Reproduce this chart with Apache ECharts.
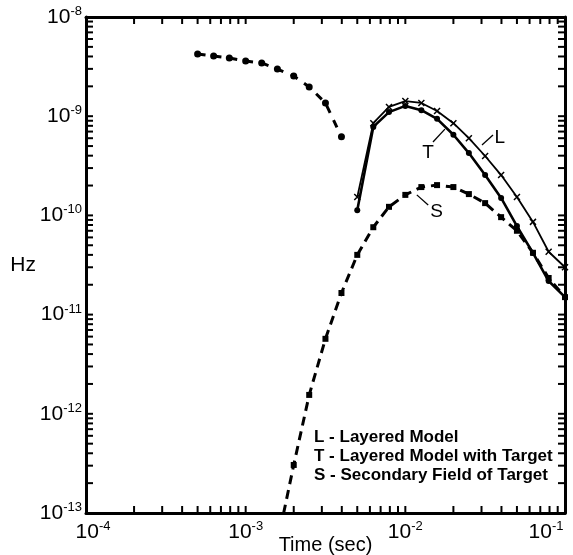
<!DOCTYPE html>
<html lang="en">
  <head>
    <meta charset="UTF-8" />
    <title>Hz vs Time</title>
    <style>
      html, body { margin: 0; padding: 0; background: #fff; }
      .box { width: 573px; height: 555px; }
    </style>
  </head>
  <body>
    <div class="box"></div>
    <script src="https://cdn.jsdelivr.net/npm/echarts@6/dist/echarts.min.js"></script>
    <script>
      var myChart = echarts.init(document.querySelector(".box"));

      // early-time dashed branch (before the sign change)
      var earlyTime = [5.0e-4, 6.3e-4, 7.9e-4, 1.0e-3, 1.26e-3, 1.58e-3, 2.0e-3, 2.5e-3, 3.16e-3, 3.98e-3];
      var earlyHz = [4.24e-9, 4.04e-9, 3.86e-9, 3.6e-9, 3.44e-9, 2.99e-9, 2.54e-9, 1.97e-9, 1.36e-9, 6.2e-10];

      // L - Layered Model
      var lTime = [5.0e-3, 6.3e-3, 7.9e-3, 1.0e-2, 1.26e-2, 1.58e-2, 2.0e-2, 2.5e-2, 3.16e-2, 3.98e-2, 5.0e-2, 6.3e-2, 7.9e-2, 1.0e-1];
      var lHz = [1.53e-10, 8.5e-10, 1.24e-9, 1.42e-9, 1.36e-9, 1.13e-9, 8.5e-10, 6.0e-10, 3.97e-10, 2.55e-10, 1.53e-10, 8.6e-11, 4.3e-11, 3.0e-11];

      // T - Layered Model with Target
      var tTime = [5.0e-3, 6.3e-3, 7.9e-3, 1.0e-2, 1.26e-2, 1.58e-2, 2.0e-2, 2.5e-2, 3.16e-2, 3.98e-2, 5.0e-2, 6.3e-2, 7.9e-2, 1.0e-1];
      var tHz = [1.13e-10, 7.8e-10, 1.10e-9, 1.27e-9, 1.15e-9, 9.4e-10, 6.5e-10, 4.25e-10, 2.55e-10, 1.50e-10, 7.8e-11, 4.18e-11, 2.18e-11, 1.5e-11];

      // S - Secondary Field of Target
      var sTime = [1.58e-3, 2.0e-3, 2.5e-3, 3.16e-3, 3.98e-3, 5.0e-3, 6.3e-3, 7.9e-3, 1.0e-2, 1.26e-2, 1.58e-2, 2.0e-2, 2.5e-2, 3.16e-2, 3.98e-2, 5.0e-2, 6.3e-2, 7.9e-2, 1.0e-1];
      var sHz = [5e-14, 3.05e-13, 1.55e-12, 5.7e-12, 1.65e-11, 4.0e-11, 7.6e-11, 1.22e-10, 1.61e-10, 1.93e-10, 2.02e-10, 1.93e-10, 1.64e-10, 1.33e-10, 9.6e-11, 7.0e-11, 4.2e-11, 2.34e-11, 1.5e-11];

      var legendLines = [
        "L - Layered Model",
        "T - Layered Model with Target",
        "S - Secondary Field of Target"
      ];

      var X_MIN = 1e-4, X_MAX = 1e-1, Y_MIN = 1e-13, Y_MAX = 1e-8;

      function pairs(xs, ys) {
        return xs.map(function (x, i) { return [x, ys[i]]; });
      }

      // 1..9 x 10^e tick values inside [lo, hi]
      function logTicks(lo, hi) {
        var out = [];
        for (var e = Math.round(Math.log10(lo)); e < Math.round(Math.log10(hi)); e++) {
          for (var m = 1; m <= 9; m++) out.push(m * Math.pow(10, e));
        }
        return out;
      }

      var FONT = "Liberation Sans, Arial, Helvetica, sans-serif";
      var crossPath = "path://M0,0L10,10M10,0L0,10";

      function powLabel(v) {
        var e = Math.round(Math.log10(v));
        return "{b|10}{s|" + e + "}";
      }
      // first x label nudged right, last one kept inside the frame
      function xPowLabel(v) {
        var e = Math.round(Math.log10(v));
        if (v >= X_MAX * 0.999) return "{b|10}{sr|" + e + "}";
        if (v <= X_MIN * 1.001) return "{bl|10}{s|" + e + "}";
        return "{b|10}{s|" + e + "}";
      }
      var richPow = {
        b: { fontSize: 21, fontFamily: FONT, color: "#000", lineHeight: 24 },
        bl: { fontSize: 21, fontFamily: FONT, color: "#000", lineHeight: 24, padding: [0, 0, 0, 14] },
        s: { fontSize: 13, fontFamily: FONT, color: "#000", verticalAlign: "top", lineHeight: 24, padding: [0, 0, 10, 0] },
        sr: { fontSize: 13, fontFamily: FONT, color: "#000", verticalAlign: "top", lineHeight: 24, padding: [0, 38, 10, 0] }
      };

      var axisLine = { show: true, onZero: false, lineStyle: { color: "#000", width: 3 } };
      var tickStyle = { stroke: "#000", lineWidth: 2 };
      var TICK = 7;

      function annot(letter, from, to, textAt) {
        return {
          markLine: {
            silent: true,
            symbol: "none",
            label: { show: false },
            lineStyle: { color: "#000", width: 1.3, type: "solid" },
            data: [[{ coord: from }, { coord: to }]]
          },
          markPoint: {
            silent: true,
            symbol: "circle",
            symbolSize: 1,
            itemStyle: { color: "rgba(0,0,0,0)" },
            label: {
              show: true, position: "inside", formatter: letter,
              fontSize: 19, fontFamily: FONT, color: "#000"
            },
            data: [{ coord: textAt }]
          }
        };
      }

      var lAnn = annot("L", [3.02e-2, 5.13e-10], [3.54e-2, 6.46e-10], [3.9e-2, 6.0e-10]);
      var tAnn = annot("T", [1.49e-2, 5.5e-10], [1.77e-2, 7.4e-10], [1.39e-2, 4.3e-10]);
      var sAnn = annot("S", [1.18e-2, 1.61e-10], [1.39e-2, 1.27e-10], [1.57e-2, 1.08e-10]);

      var xTickData = logTicks(X_MIN, X_MAX).map(function (v) { return [v, Y_MIN]; });
      var yTickData = logTicks(Y_MIN, Y_MAX).map(function (v) { return [X_MIN, v]; });

      function xTickItem(params, api) {
        var cs = params.coordSys;
        var p = api.coord([api.value(0), Y_MIN]);
        var top = cs.y, bot = cs.y + cs.height;
        return {
          type: "group",
          children: [
            { type: "line", shape: { x1: p[0], y1: bot, x2: p[0], y2: bot - TICK }, style: tickStyle },
            { type: "line", shape: { x1: p[0], y1: top, x2: p[0], y2: top + TICK }, style: tickStyle }
          ]
        };
      }
      function yTickItem(params, api) {
        var cs = params.coordSys;
        var p = api.coord([X_MIN, api.value(1)]);
        var left = cs.x, right = cs.x + cs.width;
        return {
          type: "group",
          children: [
            { type: "line", shape: { x1: left, y1: p[1], x2: left + TICK, y2: p[1] }, style: tickStyle },
            { type: "line", shape: { x1: right, y1: p[1], x2: right - TICK, y2: p[1] }, style: tickStyle }
          ]
        };
      }

      var option = {
        animation: false,
        backgroundColor: "#fff",
        grid: { left: 86, right: 8, top: 17, bottom: 42, outerBoundsMode: "none" },
        xAxis: [
          {
            type: "log", logBase: 10, min: X_MIN, max: X_MAX,
            name: "Time (sec)", nameLocation: "middle", nameGap: 22, nameMoveOverlap: false,
            nameTextStyle: { fontSize: 20, fontFamily: FONT, color: "#000", verticalAlign: "top" },
            axisLine: axisLine,
            axisTick: { show: false },
            axisLabel: { margin: 7, formatter: xPowLabel, rich: richPow },
            splitLine: { show: false }
          },
          {
            type: "log", logBase: 10, min: X_MIN, max: X_MAX, position: "top",
            axisLine: axisLine,
            axisTick: { show: false },
            axisLabel: { show: false },
            splitLine: { show: false }
          }
        ],
        yAxis: [
          {
            type: "log", logBase: 10, min: Y_MIN, max: Y_MAX,
            name: "Hz", nameLocation: "middle", nameGap: 50, nameRotate: 0, nameMoveOverlap: false,
            nameTextStyle: { fontSize: 21, fontFamily: FONT, color: "#000" },
            axisLine: axisLine,
            axisTick: { show: false },
            axisLabel: { margin: 4, formatter: powLabel, rich: richPow },
            splitLine: { show: false }
          },
          {
            type: "log", logBase: 10, min: Y_MIN, max: Y_MAX, position: "right",
            axisLine: axisLine,
            axisTick: { show: false },
            axisLabel: { show: false },
            splitLine: { show: false }
          }
        ],
        graphic: legendLines.map(function (txt, i) {
          return {
            type: "text", left: 314, top: 429 + i * 19,
            style: { text: txt, fontSize: 17, fontWeight: "bold", fontFamily: FONT, fill: "#000" }
          };
        }),
        series: [
          {
            name: "xticks", type: "custom", silent: true, clip: false,
            renderItem: xTickItem, data: xTickData
          },
          {
            name: "yticks", type: "custom", silent: true, clip: false,
            renderItem: yTickItem, data: yTickData
          },
          {
            name: "early", type: "line", clip: true,
            data: pairs(earlyTime, earlyHz),
            symbol: "circle", symbolSize: 7,
            itemStyle: { color: "#000" },
            lineStyle: { color: "#000", width: 3, type: [8, 8] }
          },
          {
            name: "T", type: "line", clip: true,
            data: pairs(tTime, tHz),
            symbol: "circle", symbolSize: 6,
            itemStyle: { color: "#000" },
            lineStyle: { color: "#000", width: 2.6 },
            markLine: tAnn.markLine, markPoint: tAnn.markPoint
          },
          {
            name: "L", type: "line", clip: true,
            data: pairs(lTime, lHz),
            symbol: crossPath, symbolSize: 6,
            itemStyle: { color: "#000", borderColor: "#000", borderWidth: 1.5 },
            lineStyle: { color: "#000", width: 1.8 },
            markLine: lAnn.markLine, markPoint: lAnn.markPoint
          },
          {
            name: "S", type: "line", clip: true,
            data: pairs(sTime, sHz),
            symbol: "rect", symbolSize: 6,
            itemStyle: { color: "#000" },
            lineStyle: { color: "#000", width: 3, type: [9, 6] },
            markLine: sAnn.markLine, markPoint: sAnn.markPoint
          }
        ]
      };

      myChart.setOption(option);
    </script>
  </body>
</html>
